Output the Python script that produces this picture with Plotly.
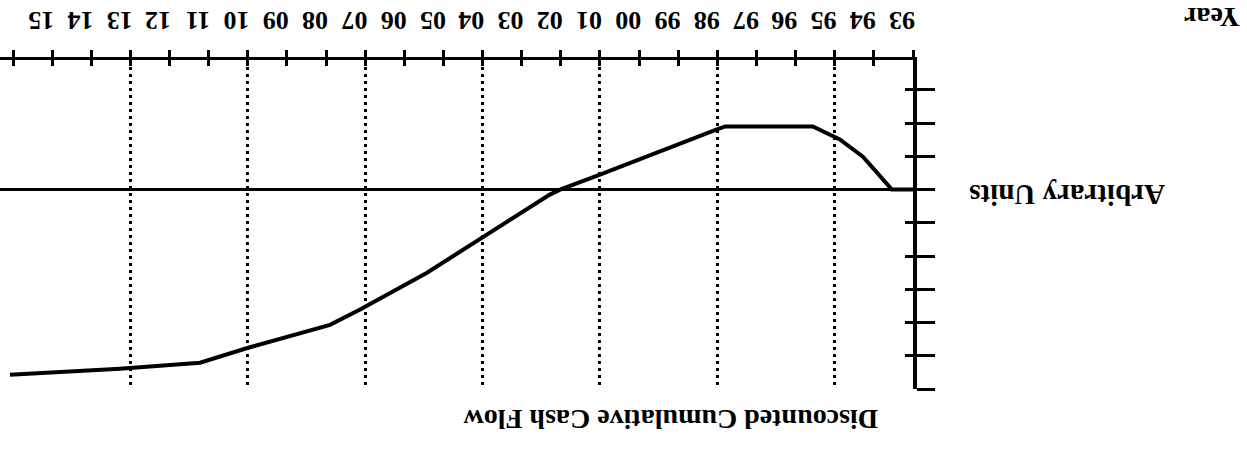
import plotly.graph_objects as go

# Data (chart is shown rotated 180 degrees, as in the scanned reference)
years = [1993.0, 1993.54, 1993.92, 1994.28, 1994.87, 1995.56, 1997.80, 1998.01,
         2001.0, 2002.02, 2002.28, 2004.07, 2005.42, 2007.13, 2007.90, 2009.99,
         2011.22, 2013.27, 2016.08]
cash_flow = [0.0, 0.0, -0.51, -0.99, -1.51, -1.90, -1.90, -1.81,
             -0.45, 0.0, 0.15, 1.51, 2.50, 3.61, 4.07, 4.76,
             5.21, 5.39, 5.57]
tick_years = list(range(1993, 2017))
tick_labels = ["93", "94", "95", "96", "97", "98", "99", "00", "01", "02", "03", "04",
               "05", "06", "07", "08", "09", "10", "11", "12", "13", "14", "15", ""]
grid_years = [1995, 1998, 2001, 2004, 2007, 2010, 2013]
y_ticks = [-3, -2, -1, 0, 1, 2, 3, 4, 5, 6]

W, H = 1247, 450
L, R, T, B = 0, 334, 60, 61
PW, PH = W - L - R, H - T - B
XR = [2016.333, 1993]
YR = [6, -3.9]
FONT = "Liberation Serif, Times New Roman, serif"

fig = go.Figure()
fig.add_trace(go.Scatter(x=years, y=cash_flow, mode="lines",
                         line=dict(color="black", width=4),
                         showlegend=False, hoverinfo="skip"))
for ax, ay in (("x2", "y2"), ("x3", "y")):
    fig.add_trace(go.Scatter(x=[years[0]], y=[cash_flow[0]], xaxis=ax, yaxis=ay,
                             mode="markers", marker=dict(opacity=0),
                             showlegend=False, hoverinfo="skip"))

fig.update_layout(
    width=W, height=H,
    margin=dict(l=L, r=R, t=T, b=B),
    paper_bgcolor="white", plot_bgcolor="white",
    xaxis=dict(range=XR, side="top", anchor="y",
               tickmode="array", tickvals=tick_years,
               ticks="outside", ticklen=7, tickwidth=2.5, tickcolor="black",
               showline=True, linewidth=2.5, linecolor="black",
               showgrid=False, zeroline=False, showticklabels=False),
    xaxis2=dict(range=XR, side="top", anchor="y2", overlaying="x",
                tickmode="array", tickvals=tick_years,
                ticks="inside", ticklen=6, tickwidth=2.5, tickcolor="black",
                showticklabels=False, showline=False, showgrid=False, zeroline=False),
    xaxis3=dict(range=XR, side="top", anchor="y", overlaying="x",
                tickmode="array", tickvals=grid_years, ticks="",
                showticklabels=False, showline=False, zeroline=False,
                showgrid=True, gridcolor="black", gridwidth=2.5, griddash="3px,4px"),
    yaxis=dict(range=YR, side="right", anchor="x",
               tickmode="array", tickvals=y_ticks,
               ticks="outside", ticklen=18, tickwidth=2.5, tickcolor="black",
               showticklabels=False, showline=True, linewidth=3.5, linecolor="black",
               showgrid=False, zeroline=True, zerolinecolor="black", zerolinewidth=2.5),
    yaxis2=dict(range=YR, side="right", anchor="x2", overlaying="y",
                tickmode="array", tickvals=y_ticks,
                ticks="inside", ticklen=8, tickwidth=2.5, tickcolor="black",
                showticklabels=False, showline=False, showgrid=False, zeroline=False),
)

# upside-down year tick labels, placed at the tick years on the x scale
label_y = 1 - (21 - T) / PH
for yr, lab in zip(tick_years, tick_labels):
    if not lab:
        continue
    fig.add_annotation(text=lab, x=yr, y=label_y, xref="x", yref="paper",
                       xshift=-11, showarrow=False, textangle=180,
                       xanchor="center", yanchor="middle",
                       font=dict(family=FONT, size=26, color="black", weight="bold"))

def px(xp, yp):
    return (xp - L) / PW, 1 - (yp - T) / PH

annots = [("Year", 1212, 18, 28), ("Arbitrary Units", 1067, 195, 29),
          ("Discounted Cumulative Cash Flow", 671, 420, 28)]
for text, xp, yp, fs in annots:
    ax_, ay_ = px(xp, yp)
    fig.add_annotation(text=text, x=ax_, y=ay_, xref="paper", yref="paper",
                       showarrow=False, textangle=180, xanchor="center", yanchor="middle",
                       font=dict(family=FONT, size=fs, color="black", weight="bold"))

fig.write_html("out.html", config={"displayModeBar": False},
               post_script="document.body.style.margin='0';")
